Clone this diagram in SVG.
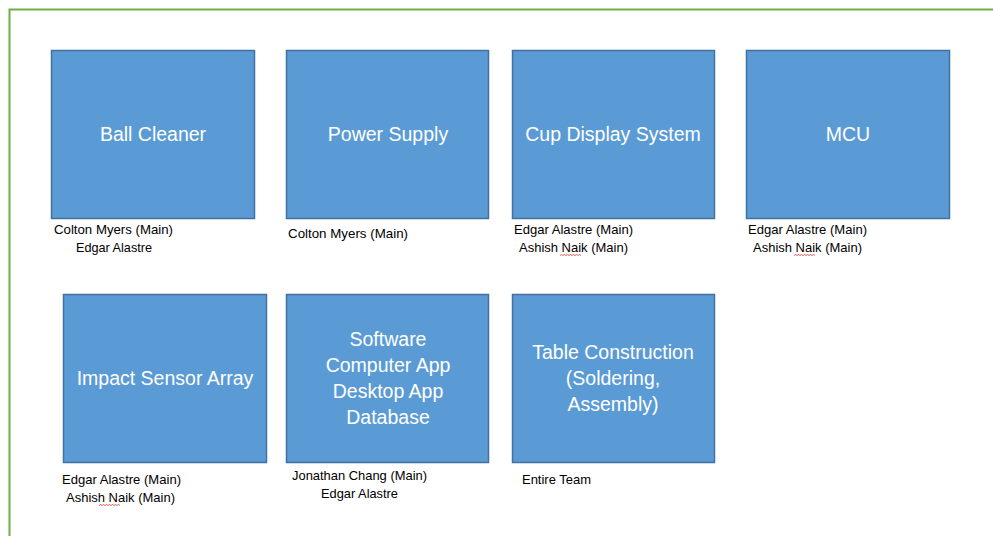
<svg xmlns="http://www.w3.org/2000/svg" width="993" height="536" viewBox="0 0 993 536">
<style>
.box{fill:#5B9BD5;stroke:#41719C;stroke-width:1.5}
.t{font-family:"Liberation Sans",Arial,sans-serif;font-size:19.5px;fill:#FFFFFF;text-anchor:middle}
.l{font-family:"Liberation Sans",Arial,sans-serif;font-size:13px;fill:#000000}
.sq{fill:none;stroke:#E03030;stroke-width:0.8}
</style>
<rect width="993" height="536" fill="#FFFFFF"/>
<path d="M9.5,536 V9.5 H993" fill="none" stroke="#70AD47" stroke-width="2"/>
<g id="connectors"/>
<g id="ball-cleaner">
<rect class="box" x="51.5" y="50.5" width="203" height="168"/>
<text class="t" x="153" y="141">Ball Cleaner</text>
<text class="l" x="54" y="234" textLength="119" lengthAdjust="spacingAndGlyphs">Colton Myers (Main)</text>
<text class="l" x="76" y="252" textLength="76" lengthAdjust="spacingAndGlyphs">Edgar Alastre</text>
</g>
<g id="power-supply">
<rect class="box" x="286.5" y="50.5" width="202" height="168"/>
<text class="t" x="388" y="141">Power Supply</text>
<text class="l" x="288" y="238" textLength="120" lengthAdjust="spacingAndGlyphs">Colton Myers (Main)</text>
</g>
<g id="cup-display">
<rect class="box" x="512.5" y="50.5" width="202" height="168"/>
<text class="t" x="613" y="141">Cup Display System</text>
<text class="l" x="514" y="234" textLength="119" lengthAdjust="spacingAndGlyphs">Edgar Alastre (Main)</text>
<text class="l" x="519" y="252" textLength="109" lengthAdjust="spacingAndGlyphs">Ashish Naik (Main)</text>
<path class="sq" d="M560,255.5 l1.5,-1 l1.5,1 l1.5,-1 l1.5,1 l1.5,-1 l1.5,1 l1.5,-1 l1.5,1 l1.5,-1 l1.5,1 l1.5,-1 l1.5,1 l1.5,-1 l1.5,1"/>
</g>
<g id="mcu">
<rect class="box" x="746.5" y="50.5" width="203" height="168"/>
<text class="t" x="848" y="141">MCU</text>
<text class="l" x="748" y="234" textLength="119" lengthAdjust="spacingAndGlyphs">Edgar Alastre (Main)</text>
<text class="l" x="753" y="252" textLength="109" lengthAdjust="spacingAndGlyphs">Ashish Naik (Main)</text>
<path class="sq" d="M794,255.5 l1.5,-1 l1.5,1 l1.5,-1 l1.5,1 l1.5,-1 l1.5,1 l1.5,-1 l1.5,1 l1.5,-1 l1.5,1 l1.5,-1 l1.5,1 l1.5,-1 l1.5,1"/>
</g>
<g id="impact-sensor">
<rect class="box" x="63.5" y="294.5" width="203" height="168"/>
<text class="t" x="165" y="385">Impact Sensor Array</text>
<text class="l" x="62" y="484" textLength="119" lengthAdjust="spacingAndGlyphs">Edgar Alastre (Main)</text>
<text class="l" x="66" y="502" textLength="109" lengthAdjust="spacingAndGlyphs">Ashish Naik (Main)</text>
<path class="sq" d="M99,505.5 l1.5,-1 l1.5,1 l1.5,-1 l1.5,1 l1.5,-1 l1.5,1 l1.5,-1 l1.5,1 l1.5,-1 l1.5,1 l1.5,-1 l1.5,1 l1.5,-1 l1.5,1"/>
</g>
<g id="software">
<rect class="box" x="286.5" y="294.5" width="202" height="168"/>
<text class="t" x="388" y="346">Software</text>
<text class="t" x="388" y="372">Computer App</text>
<text class="t" x="388" y="398">Desktop App</text>
<text class="t" x="388" y="424">Database</text>
<text class="l" x="292" y="480" textLength="135" lengthAdjust="spacingAndGlyphs">Jonathan Chang (Main)</text>
<text class="l" x="321" y="498" textLength="77" lengthAdjust="spacingAndGlyphs">Edgar Alastre</text>
</g>
<g id="table-construction">
<rect class="box" x="512.5" y="294.5" width="202" height="168"/>
<text class="t" x="613" y="359">Table Construction</text>
<text class="t" x="613" y="385">(Soldering,</text>
<text class="t" x="613" y="411">Assembly)</text>
<text class="l" x="522" y="484" textLength="69" lengthAdjust="spacingAndGlyphs">Entire Team</text>
</g>
</svg>
